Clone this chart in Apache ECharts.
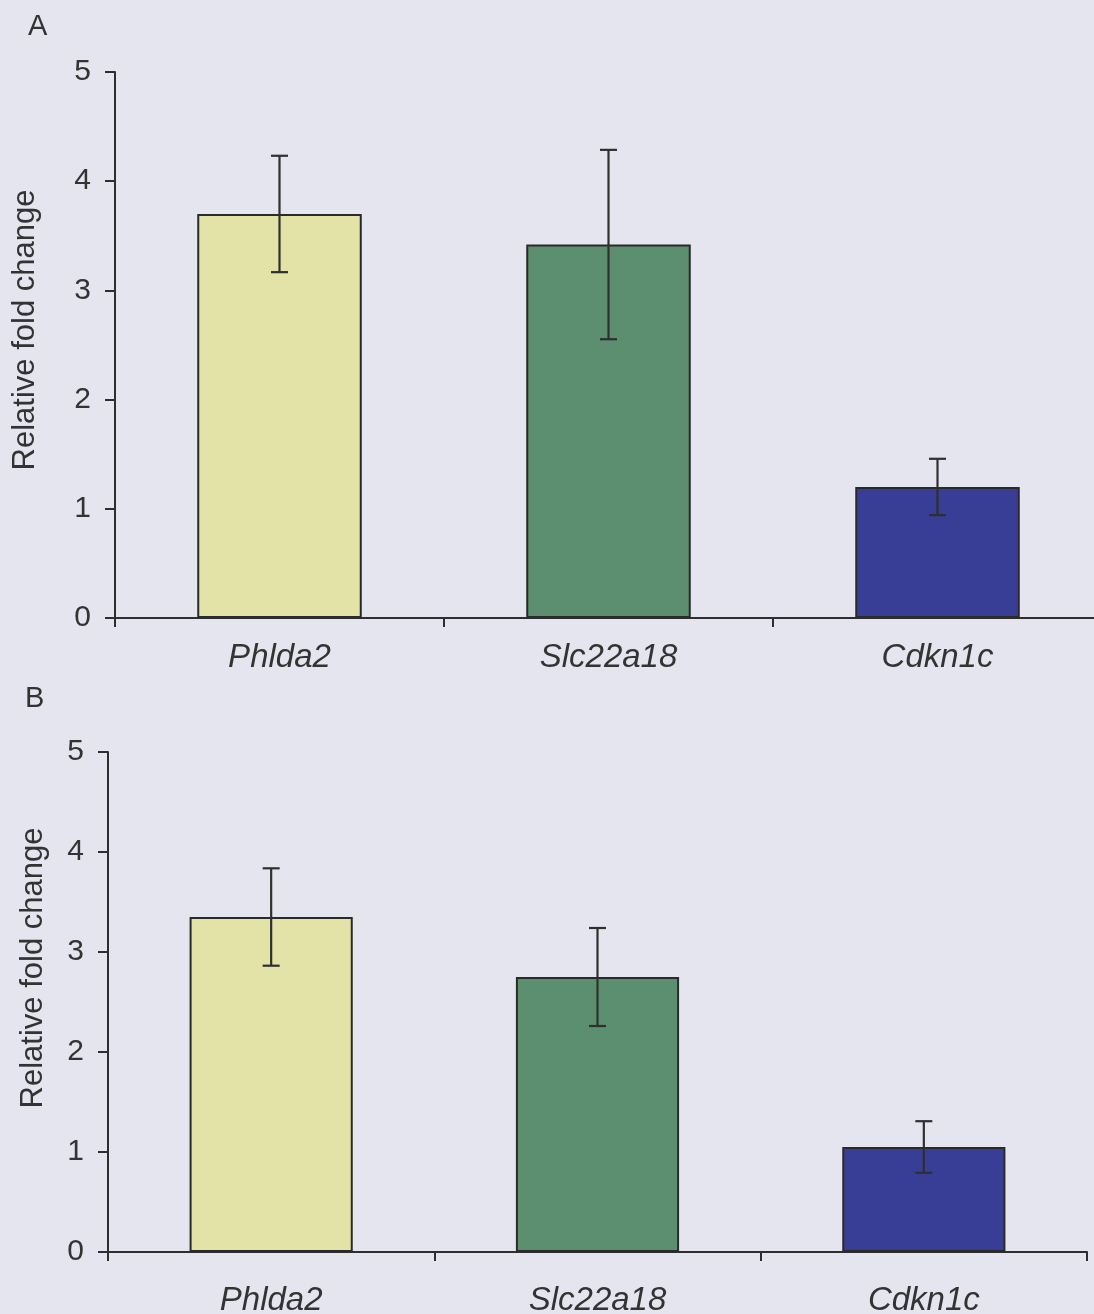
<!DOCTYPE html>
<html>
<head>
<meta charset="utf-8">
<script src="https://cdn.jsdelivr.net/npm/echarts@6/dist/echarts.min.js"></script>
<style>
html,body{margin:0;padding:0;background:#e5e5ef;}
#chart{width:1094px;height:1314px;}
</style>
</head>
<body>
<div id="chart"></div>
<script>
const categories = ['Phlda2', 'Slc22a18', 'Cdkn1c'];
const valuesA = [3.70, 3.42, 1.20];
const errorsA = [0.533, 0.867, 0.258];
const valuesB = [3.35, 2.75, 1.05];
const errorsB = [0.487, 0.49, 0.258];
const yTicks = [0, 1, 2, 3, 4, 5];
const barColors = ['#e3e3a7', '#5b8f6f', '#383e95'];
const yName = 'Relative fold change';

const FONT = '"Liberation Sans", Arial, sans-serif';
const TXT = '#333333';
const AX = '#2e2e2e';

const chart = echarts.init(document.getElementById('chart'));

function xAxisCfg(gi, margin) {
  return {
    gridIndex: gi, type: 'category', data: categories, boundaryGap: true,
    axisLine: {show: true, lineStyle: {color: AX, width: 2}},
    axisTick: {show: true, inside: false, length: 9, alignWithLabel: false, lineStyle: {color: AX, width: 2}},
    axisLabel: {margin: margin, color: TXT, fontSize: 33, fontStyle: 'italic', fontFamily: FONT},
    splitLine: {show: false}
  };
}
function yAxisCfg(gi) {
  return {
    gridIndex: gi, type: 'value', min: yTicks[0], max: yTicks[yTicks.length - 1], interval: 1,
    axisLine: {show: true, lineStyle: {color: AX, width: 2}},
    axisTick: {show: true, length: 10, lineStyle: {color: AX, width: 2}},
    axisLabel: {margin: 24, color: TXT, fontSize: 30, fontFamily: FONT},
    splitLine: {show: false}
  };
}
function barSeries(idx, values) {
  return {
    type: 'bar', xAxisIndex: idx, yAxisIndex: idx, barWidth: '50%',
    data: values.map((v, i) => ({value: v, itemStyle: {color: barColors[i]}})),
    itemStyle: {borderColor: '#2a2a2a', borderWidth: 2},
    emphasis: {disabled: true}, z: 2
  };
}
function errSeries(idx, values, errors) {
  return {
    type: 'custom', xAxisIndex: idx, yAxisIndex: idx, z: 5,
    data: values.map((v, i) => [i, v - errors[i], v + errors[i]]),
    renderItem: function (params, api) {
      const lo = api.coord([api.value(0), api.value(1)]);
      const hi = api.coord([api.value(0), api.value(2)]);
      const hw = 8.5;
      const st = {stroke: '#2f2f2f', lineWidth: 2.2};
      return {
        type: 'group',
        children: [
          {type: 'line', shape: {x1: hi[0], y1: hi[1], x2: lo[0], y2: lo[1]}, style: st},
          {type: 'line', shape: {x1: hi[0] - hw, y1: hi[1], x2: hi[0] + hw, y2: hi[1]}, style: st},
          {type: 'line', shape: {x1: lo[0] - hw, y1: lo[1], x2: lo[0] + hw, y2: lo[1]}, style: st}
        ]
      };
    }
  };
}

chart.setOption({
  backgroundColor: '#e5e5ef',
  animation: false,
  grid: [
    {left: 115, top: 72, width: 987, height: 546, outerBoundsMode: 'none', containLabel: false},
    {left: 108, top: 752, width: 979, height: 500, outerBoundsMode: 'none', containLabel: false}
  ],
  xAxis: [xAxisCfg(0, 23), xAxisCfg(1, 32)],
  yAxis: [yAxisCfg(0), yAxisCfg(1)],
  series: [
    barSeries(0, valuesA), errSeries(0, valuesA, errorsA),
    barSeries(1, valuesB), errSeries(1, valuesB, errorsB)
  ],
  graphic: [
    {type: 'text', left: 28, top: 12, style: {text: 'A', fontSize: 29, fontFamily: FONT, fill: TXT}},
    {type: 'text', left: 25, top: 684, style: {text: 'B', fontSize: 29, fontFamily: FONT, fill: TXT}},
    {type: 'text', x: 25, y: 330, rotation: Math.PI / 2,
     style: {text: yName, fontSize: 31, fontFamily: FONT, fill: TXT, align: 'center', verticalAlign: 'middle'}},
    {type: 'text', x: 33, y: 968, rotation: Math.PI / 2,
     style: {text: yName, fontSize: 31, fontFamily: FONT, fill: TXT, align: 'center', verticalAlign: 'middle'}}
  ]
});
</script>
</body>
</html>
